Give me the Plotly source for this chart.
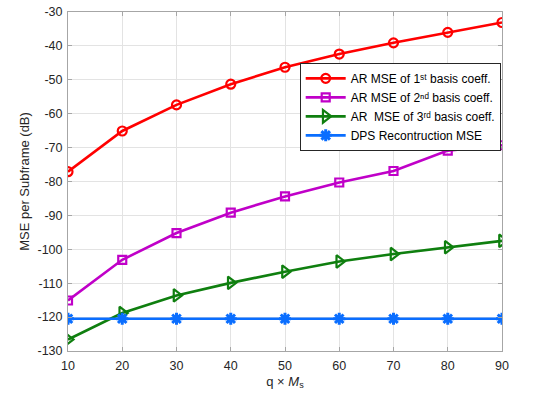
import plotly.graph_objects as go

# Pilot spacing product q x Ms
q_ms = [10, 20, 30, 40, 50, 60, 70, 80, 90]

# MSE per subframe (dB)
ar_mse_1st = [-77.1, -65.1, -57.4, -51.3, -46.3, -42.4, -39.1, -36.0, -33.1]
ar_mse_2nd = [-115.1, -103.1, -95.2, -89.2, -84.4, -80.3, -76.9, -70.9, -69.3]
ar_mse_3rd = [-126.6, -118.8, -113.6, -109.9, -106.6, -103.6, -101.4, -99.4, -97.5]
dps_mse = [-120.5] * 9

y_ticks = list(range(-130, -29, 10))
y_tick_labels = [str(v) for v in y_ticks]
x_ticks = q_ms

font_family = "Liberation Sans, Arial, sans-serif"

series = [
    ("AR MSE of 1ˢᵗ basis coeff.", ar_mse_1st, "#ff0000",
     dict(symbol="circle-open", size=9, line=dict(width=2.2))),
    ("AR MSE of 2ⁿᵈ basis coeff.", ar_mse_2nd, "#c000c8",
     dict(symbol="square-open", size=8, line=dict(width=2.2))),
    ("AR  MSE of 3ʳᵈ basis coeff.", ar_mse_3rd, "#0f7f0f",
     dict(symbol="triangle-right-open", size=11, line=dict(width=2.2))),
    ("DPS Recontruction MSE", dps_mse, "#0a6eff",
     dict(symbol="asterisk-open", size=10, line=dict(width=3))),
]

fig = go.Figure()
for name, vals, color, marker in series:
    marker = dict(marker, color=color)
    marker["line"] = dict(marker["line"], color=color)
    fig.add_trace(go.Scatter(
        x=q_ms, y=vals, name=name, mode="lines+markers",
        line=dict(color=color, width=2.6),
        marker=marker,
    ))

axis_common = dict(
    showgrid=True, gridcolor="#e3e3e3", gridwidth=1,
    showline=True, linecolor="#a6a6a6", linewidth=1, mirror="ticks",
    ticks="inside", ticklen=4, tickcolor="#a6a6a6",
    tickfont=dict(family=font_family, size=12.5, color="#262626"),
    zeroline=False, automargin=False,
)

fig.update_layout(
    width=535, height=397,
    margin=dict(l=68, r=33, t=12, b=46),
    paper_bgcolor="white", plot_bgcolor="white",
    font=dict(family=font_family, color="#262626"),
    xaxis=dict(axis_common, range=[10, 90], tickvals=x_ticks,
               ticklabelstandoff=3,
               title=dict(text="q × <i>M</i><sub>s</sub>", standoff=4,
                          font=dict(family=font_family, size=13, color="#262626"))),
    yaxis=dict(axis_common, range=[-130, -30], tickvals=y_ticks,
               ticktext=y_tick_labels, ticklabelstandoff=2,
               title=dict(text="MSE per Subframe (dB)", standoff=4,
                          font=dict(family=font_family, size=13, color="#262626"))),
    legend=dict(
        x=0.997, y=0.85, xanchor="right", yanchor="top",
        bgcolor="white", bordercolor="#262626", borderwidth=1,
        font=dict(family=font_family, size=12, color="#000000"),
        tracegroupgap=0, itemwidth=40,
    ),
    showlegend=True,
)

fig.write_html("out.html")
